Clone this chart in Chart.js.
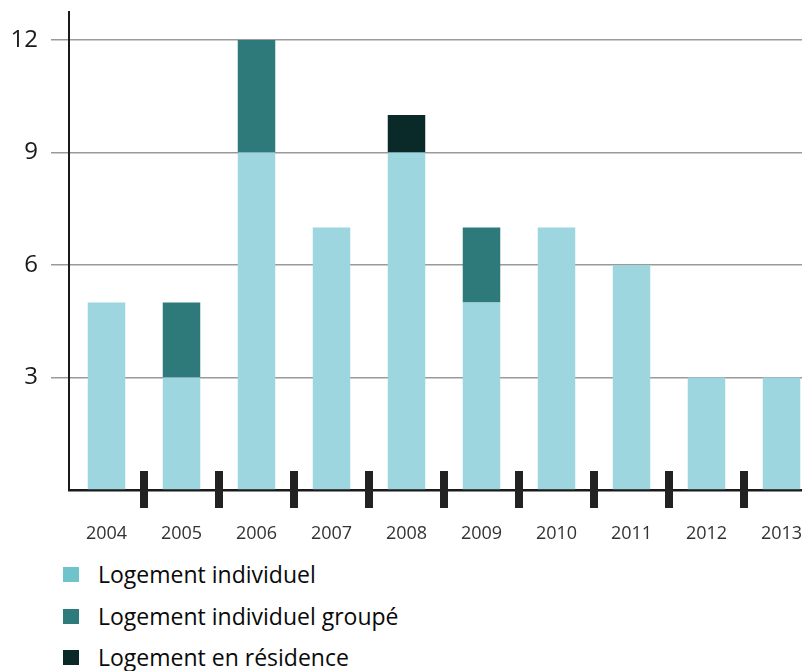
<!DOCTYPE html>
<html>
<head>
<meta charset="utf-8">
<script src="https://cdn.jsdelivr.net/npm/chart.js@4.4.1/dist/chart.umd.min.js"></script>
<style>
  html, body { margin: 0; padding: 0; background: #fff; overflow: hidden; width: 802px; height: 671px; }
  #wrap { position: absolute; left: 0; top: 0; }
  #legend { position: absolute; left: 63px; top: 560px; font-family: "Open Sans", sans-serif; font-size: 23px; color: #0a0a0a; }
  .item { position: absolute; left: 0; white-space: nowrap; height: 28px; line-height: 28px; }
  .sw { position: absolute; left: 0; top: 7px; width: 16px; height: 15px; }
  .lb { position: absolute; left: 35px; top: 0; }
</style>
</head>
<body>
<div id="wrap"><canvas id="c" width="819" height="550"></canvas></div>
<div id="legend"></div>
<script>
const categories = ["2004","2005","2006","2007","2008","2009","2010","2011","2012","2013"];
const individuel = [5, 3, 9, 7, 9, 5, 7, 6, 3, 3];
const individuelGroupe = [0, 2, 3, 0, 0, 2, 0, 0, 0, 0];
const residence = [0, 0, 0, 0, 1, 0, 0, 0, 0, 0];
const seriesNames = ["Logement individuel", "Logement individuel groupé", "Logement en résidence"];
const yTicks = [0, 3, 6, 9, 12];

const barColors = ["#9dd6df", "#2e7a7a", "#0a2a2a"];
const legendColors = ["#6fc4cc", "#2e7a7c", "#0a2a2a"];

const separators = {
  id: 'separators',
  afterDraw(chart) {
    const x = chart.scales.x, ctx = chart.ctx, bottom = chart.chartArea.bottom;
    ctx.save();
    ctx.fillStyle = '#222';
    for (let i = 0; i < categories.length - 1; i++) {
      const px = (x.getPixelForTick(i) + x.getPixelForTick(i + 1)) / 2;
      ctx.fillRect(px - 4, bottom - 19, 8, 37);
    }
    ctx.restore();
  }
};

const ds = [individuel, individuelGroupe, residence].map((d, i) => ({
  label: seriesNames[i],
  data: d,
  backgroundColor: barColors[i],
  borderWidth: 0,
  barPercentage: 0.5,
  categoryPercentage: 1.0
}));

new Chart(document.getElementById('c'), {
  type: 'bar',
  data: { labels: categories, datasets: ds },
  plugins: [separators],
  options: {
    responsive: false,
    animation: false,
    layout: { padding: { top: 12, right: 0, left: 0, bottom: 0 } },
    plugins: { legend: { display: false }, tooltip: { enabled: false } },
    scales: {
      x: {
        stacked: true,
        grid: { display: false },
        border: { display: true, color: '#1a1a1a', width: 2.5 },
        ticks: { color: '#333', font: { family: 'Open Sans', size: 18 }, padding: 25, maxRotation: 0 },
        afterFit(s) { s.height = 60; s.paddingLeft = 0; s.paddingRight = 0; }
      },
      y: {
        stacked: true,
        min: 0, max: 12.75,
        afterBuildTicks(s) { s.ticks = yTicks.map(v => ({ value: v })); },
        grid: {
          color: ctx => (ctx.tick && ctx.tick.value === 0) ? 'rgba(0,0,0,0)' : '#9a9a9a',
          lineWidth: 1.5,
          tickLength: 18,
          drawTicks: true
        },
        border: { display: true, color: '#1a1a1a', width: 2 },
        ticks: {
          color: '#1a1a1a',
          font: { family: 'Open Sans', size: 24 },
          padding: 13,
          callback: v => v === 0 ? '' : String(v)
        },
        afterFit(s) { s.width = 69; s.paddingTop = 0; s.paddingBottom = 0; }
      }
    }
  }
});

const legend = document.getElementById('legend');
const rowTops = [0, 42, 83];
seriesNames.forEach((n, i) => {
  const it = document.createElement('div');
  it.className = 'item';
  it.style.top = rowTops[i] + 'px';
  it.innerHTML = '<span class="sw" style="background:' + legendColors[i] + '"></span><span class="lb"></span>';
  it.querySelector('.lb').textContent = n;
  legend.appendChild(it);
});
</script>
</body>
</html>
